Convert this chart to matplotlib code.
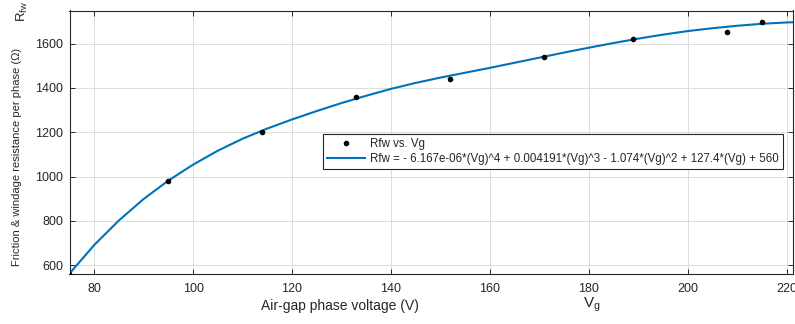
import matplotlib
matplotlib.use("Agg")
import matplotlib.pyplot as plt

# Measured data points
vg_pts = [75, 95, 114, 133, 152, 171, 189, 208, 215]
rfw_pts = [560, 982, 1200, 1360, 1442, 1541, 1621, 1655, 1698]

# Fitted curve values
vg_fit = [75, 80, 85, 90, 95, 100, 105, 110, 115, 120, 125, 130, 135, 140,
          145, 150, 155, 160, 165, 170, 175, 180, 185, 190, 195, 200, 205,
          210, 215, 220, 221.3]
rfw_fit = [562, 691, 802, 899, 982, 1054, 1117, 1171, 1217, 1258, 1296, 1332,
           1365, 1396, 1423, 1447, 1469, 1491, 1514, 1537, 1560, 1582, 1603,
           1623, 1641, 1657, 1670, 1681, 1690, 1696, 1697]

xticks = [80, 100, 120, 140, 160, 180, 200, 220]
yticks = [600, 800, 1000, 1200, 1400, 1600]

legend_labels = ["Rfw vs. Vg",
                 "Rfw = - 6.167e-06*(Vg)^4 + 0.004191*(Vg)^3 - 1.074*(Vg)^2 + 127.4*(Vg) + 560"]

plt.rcParams['font.family'] = ['Liberation Sans', 'DejaVu Sans']
plt.rcParams['mathtext.default'] = 'regular'

W, H = 795, 324
fig = plt.figure(figsize=(W / 100, H / 100), dpi=100)
ax = fig.add_axes([69.5 / W, (H - 274) / H, (793 - 69.5) / W, (274 - 10.5) / H])

dark = '#262626'
ax.plot(vg_pts, rfw_pts, 'o', color='black', markersize=3.0, label=legend_labels[0], zorder=3)
ax.plot(vg_fit, rfw_fit, '-', color='#0072BD', lw=1.5, label=legend_labels[1], zorder=2,
        solid_joinstyle='round')

ax.set_xlim(75, 221.3)
ax.set_ylim(560, 1750)
ax.set_xticks(xticks)
ax.set_yticks(yticks)
ax.grid(True, color='#dcdcdc', lw=0.7)
ax.set_axisbelow(True)
ax.tick_params(direction='in', length=3.5, width=0.7, colors=dark, labelsize=9,
               top=True, right=True)
ax.tick_params(axis='x', pad=6.5)
ax.tick_params(axis='y', pad=4.5)
for s in ax.spines.values():
    s.set_color(dark)
    s.set_linewidth(0.8)

leg = ax.legend(loc='lower left', bbox_to_anchor=(0.350, 0.398), borderaxespad=0,
                fontsize=8.3, handlelength=3.3, handletextpad=0.45, borderpad=0.35,
                labelspacing=0.25, numpoints=1, fancybox=False, framealpha=1)
leg.get_frame().set_edgecolor(dark)
leg.get_frame().set_linewidth(0.8)
for t in leg.get_texts():
    t.set_color(dark)

fig.text(261 / W, (H - 310) / H, "Air-gap phase voltage (V)", fontsize=10,
         color=dark, ha='left', va='baseline')
fig.text(583 / W, (H - 308) / H, "$V_g$", fontsize=11, color=dark,
         ha='left', va='baseline')
fig.text(17.5 / W, (H - 156.5) / H, "Friction & windage resistance per phase (\u03a9)",
         fontsize=8, color=dark, rotation=90, ha='center', va='center')
fig.text(22 / W, (H - 12) / H, "$R_{fw}$", fontsize=9.5, color=dark,
         rotation=90, ha='center', va='center')

fig.savefig("out.png", dpi=100)
